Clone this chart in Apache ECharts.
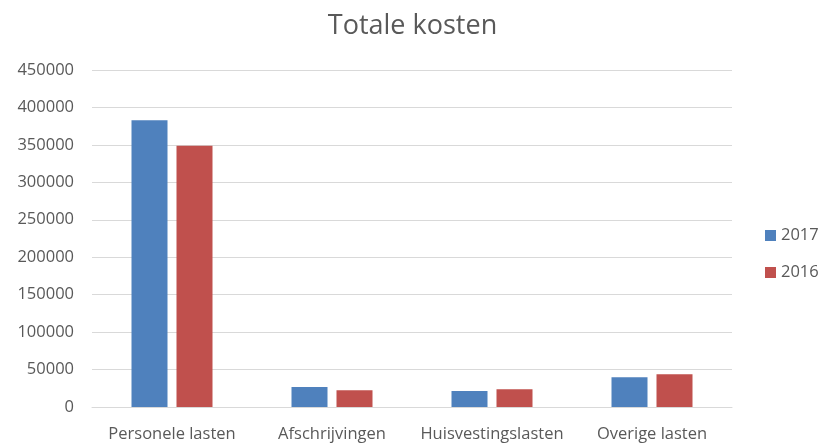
<!DOCTYPE html>
<html><head><meta charset="utf-8">
<script src="https://cdn.jsdelivr.net/npm/echarts@6/dist/echarts.min.js"></script>
<style>html,body{margin:0;padding:0;background:#fff}#c{width:825px;height:443px}</style>
</head><body><div id="c"></div>
<script>
const categories = ['Personele lasten', 'Afschrijvingen', 'Huisvestingslasten', 'Overige lasten'];
const values2017 = [383000, 26700, 21400, 39600];
const values2016 = [349000, 22300, 23600, 43600];
const seriesNames = ['2017', '2016'];

const chart = echarts.init(document.getElementById('c'));
const font = 'Open Sans, sans-serif';
chart.setOption({
  animation: false,
  title: { text: 'Totale kosten', left: 'center', top: 8,
    textStyle: { fontFamily: font, fontSize: 27, fontWeight: 'normal', color: '#595959' } },
  legend: { orient: 'vertical', left: 760, top: 222, itemWidth: 11, itemHeight: 11, itemGap: 20,
    icon: 'rect', data: seriesNames,
    textStyle: { fontFamily: font, fontSize: 16.5, color: '#595959' } },
  grid: { left: 92, right: 93, top: 70, bottom: 36, containLabel: false },
  xAxis: { type: 'category', data: categories,
    axisLine: { lineStyle: { color: '#d9d9d9', width: 1 } }, axisTick: { show: false },
    axisLabel: { fontFamily: font, fontSize: 16.5, color: '#595959', margin: 19, interval: 0 } },
  yAxis: { type: 'value', min: 0, max: 450000, interval: 50000,
    axisLine: { show: false }, axisTick: { show: false },
    splitLine: { lineStyle: { color: '#d9d9d9', width: 1 } },
    axisLabel: { fontFamily: font, fontSize: 16.5, color: '#595959', margin: 18,
      formatter: v => String(v) } },
  series: [
    { name: seriesNames[0], type: 'bar', data: values2017, barWidth: 36, barGap: '25%',
      itemStyle: { color: '#4F81BD' } },
    { name: seriesNames[1], type: 'bar', data: values2016, barWidth: 36, barGap: '25%',
      itemStyle: { color: '#C0504D' } }
  ]
});
</script></body></html>
